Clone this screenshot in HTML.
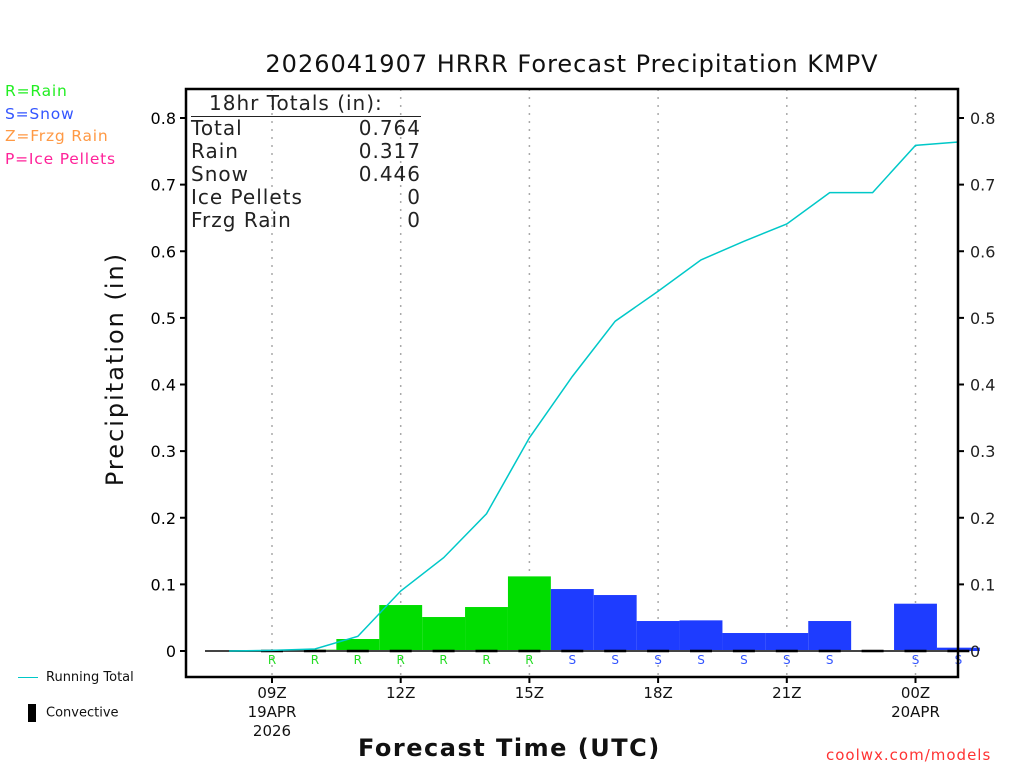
<!DOCTYPE html>
<html><head><meta charset="utf-8"><style>
body{margin:0;background:#fff;width:1024px;height:768px;overflow:hidden}
svg{display:block}
text{font-family:"DejaVu Sans","Liberation Sans",sans-serif}
</style></head><body>
<svg id="c" width="1024" height="768"></svg>
<script>
const hours=[8,9,10,11,12,13,14,15,16,17,18,19,20,21,22,23,24,25];
const barHours=[9,10,11,12,13,14,15,16,17,18,19,20,21,22,23,24,25];
const barValues=[0.001,0.002,0.018,0.069,0.051,0.066,0.112,0.093,0.084,0.045,0.046,0.027,0.027,0.045,0,0.071,0.005];
const barTypes=["R","R","R","R","R","R","R","S","S","S","S","S","S","S","","S","S"];
const totalValues=[0,0.001,0.003,0.022,0.090,0.140,0.206,0.320,0.412,0.495,0.540,0.587,0.615,0.641,0.688,0.688,0.759,0.764];
const yTicks=[0,0.1,0.2,0.3,0.4,0.5,0.6,0.7,0.8];
const xTickHours=[9,12,15,18,21,24];
const xTickLabels=[["09Z","19APR","2026"],["12Z"],["15Z"],["18Z"],["21Z"],["00Z","20APR"]];
const NS="http://www.w3.org/2000/svg";
const svg=document.getElementById('c');
const L=186,R=958,T=89,B=677;
const x=h=>272+(h-9)*42.9;
const y=v=>651-v*666.25;
function el(t,a,txt){const e=document.createElementNS(NS,t);for(const k in a)e.setAttribute(k,a[k]);if(txt!==undefined)e.textContent=txt;svg.appendChild(e);return e;}
xTickHours.forEach(h=>{const g=el('line',{x1:x(h),x2:x(h),y1:T,y2:B,stroke:'#aaa','stroke-width':1.5,'stroke-dasharray':'2,6'});

});
barHours.forEach((h,i)=>{const v=barValues[i];if(v>0){const b=el('rect',{x:x(h)-21.45,y:y(v),width:42.9,height:651-y(v),fill:barTypes[i]=='R'?'#00dd00':'#1e3cff'});

}});
const bl=el('line',{x1:205,x2:R,y1:651,y2:651,stroke:'#444','stroke-width':2});


barHours.forEach((h,i)=>{const d=el('line',{x1:x(h)-11,x2:x(h)+11,y1:651,y2:651,stroke:'#000','stroke-width':2.5});


if(barTypes[i]){const t=el('text',{x:x(h),y:664,'font-size':12,'text-anchor':'middle',fill:barTypes[i]=='R'?'#22dd22':'#3355ff'},barTypes[i]);

}});
const pl=el('polyline',{points:hours.map((h,i)=>x(h)+','+y(totalValues[i])).join(' '),fill:'none',stroke:'#00c8c8','stroke-width':1.5});


const fr=el('rect',{x:L,y:T,width:R-L,height:B-T,fill:'none',stroke:'#000','stroke-width':2.5});


yTicks.forEach(v=>{el('line',{x1:L-6,x2:L,y1:y(v),y2:y(v),stroke:'#000','stroke-width':2});el('line',{x1:R,x2:R+6,y1:y(v),y2:y(v),stroke:'#000','stroke-width':2});
const a=el('text',{x:L-10,y:y(v)+6,'font-size':16,'text-anchor':'end'},v===0?'0':v.toFixed(1));


const b=el('text',{x:R+12,y:y(v)+6,'font-size':16,fill:'#222'},v===0?'0':v.toFixed(1));

});
xTickHours.forEach((h,i)=>{el('line',{x1:x(h),x2:x(h),y1:B,y2:B+6,stroke:'#000','stroke-width':2});
xTickLabels[i].forEach((s,j)=>{const t=el('text',{x:x(h),y:698+j*19,'font-size':15,'text-anchor':'middle',fill:'#111'},s);

});});
</script>
<div style="position:absolute;left:0;top:0;width:1024px;height:768px;font-family:'DejaVu Sans','Liberation Sans',sans-serif;pointer-events:none">
<div style="position:absolute;left:0;width:1144px;top:50px;text-align:center;font-size:24px;letter-spacing:1px;color:#111">2026041907 HRRR Forecast Precipitation KMPV</div>
<div style="position:absolute;top:355px;width:250px;text-align:center;font-size:24px;letter-spacing:2px;transform:rotate(-90deg);transform-origin:center;color:#111;left:-10px">Precipitation (in)</div>
<div style="position:absolute;left:358px;top:734px;font-size:24px;letter-spacing:1.5px;font-weight:bold;color:#111">Forecast Time (UTC)</div>
<div style="position:absolute;left:826px;top:746px;font-size:15px;color:#ff3333;letter-spacing:1px">coolwx.com/models</div>
<div style="position:absolute;left:5px;top:80px;font-size:15.5px;line-height:22.5px;letter-spacing:0.8px">
<div style="color:#22ee22">R=Rain</div><div style="color:#3355ff">S=Snow</div><div style="color:#ff9944">Z=Frzg Rain</div><div style="color:#ff2299">P=Ice Pellets</div></div>
<div style="position:absolute;left:191px;top:91px;width:230px;font-size:20px;line-height:23px;color:#222;letter-spacing:1px">
<div style="padding-left:18px;border-bottom:1.5px solid #222;line-height:25px">18hr Totals (in):</div>
<div style="display:flex;justify-content:space-between"><span>Total</span><span>0.764</span></div>
<div style="display:flex;justify-content:space-between"><span>Rain</span><span>0.317</span></div>
<div style="display:flex;justify-content:space-between"><span>Snow</span><span>0.446</span></div>
<div style="display:flex;justify-content:space-between"><span>Ice Pellets</span><span>0</span></div>
<div style="display:flex;justify-content:space-between"><span>Frzg Rain</span><span>0</span></div></div>
<div style="position:absolute;left:18px;top:670px;font-size:13px;color:#111"><span style="display:inline-block;width:20px;border-top:1.5px solid #00c8c8;vertical-align:middle;margin-right:8px"></span>Running Total</div>
<div style="position:absolute;left:28px;top:704px;font-size:13px;color:#111"><span style="display:inline-block;width:8px;height:18px;background:#000;vertical-align:middle;margin-right:10px"></span>Convective</div>
</div>
</body></html>
